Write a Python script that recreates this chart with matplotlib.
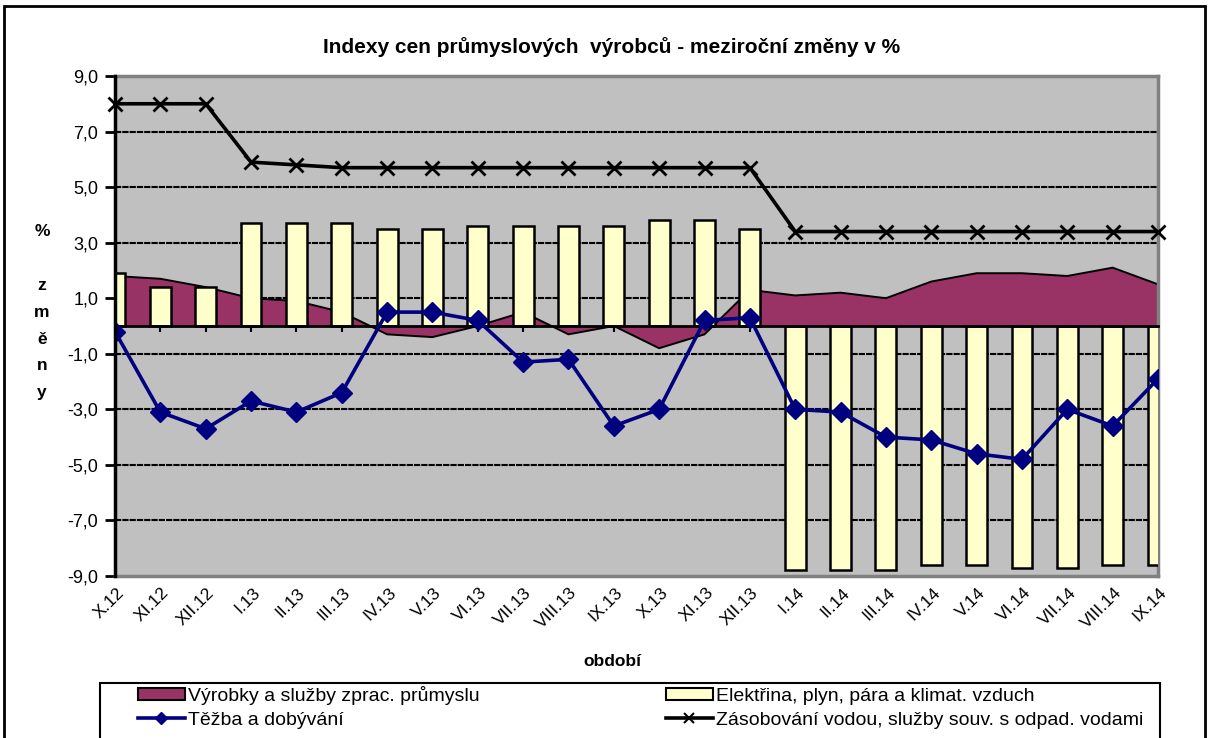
import numpy as np
import matplotlib
matplotlib.use('Agg')
import matplotlib.pyplot as plt
from matplotlib import transforms
from matplotlib.patches import Rectangle
from matplotlib.lines import Line2D

plt.rcParams['font.family'] = ['Liberation Sans', 'DejaVu Sans']

T = 'Indexy cen průmyslových  výrobců - meziroční změny v %'
mesice = ['X.12', 'XI.12', 'XII.12', 'I.13', 'II.13', 'III.13', 'IV.13', 'V.13',
          'VI.13', 'VII.13', 'VIII.13', 'IX.13', 'X.13', 'XI.13', 'XII.13',
          'I.14', 'II.14', 'III.14', 'IV.14', 'V.14', 'VI.14', 'VII.14',
          'VIII.14', 'IX.14']
# zpracovatelsky prumysl (plocha)
zprac = [1.8, 1.7, 1.4, 1.0, 0.9, 0.5, -0.3, -0.4, 0.0, 0.5, -0.3, 0.0,
         -0.8, -0.3, 1.3, 1.1, 1.2, 1.0, 1.6, 1.9, 1.9, 1.8, 2.1, 1.5]
# elektrina, plyn, para (sloupce)
elek = [1.9, 1.4, 1.4, 3.7, 3.7, 3.7, 3.5, 3.5, 3.6, 3.6, 3.6, 3.6,
        3.8, 3.8, 3.5, -8.8, -8.8, -8.8, -8.6, -8.6, -8.7, -8.7, -8.6, -8.6]
# tezba a dobyvani
tezba = [-0.2, -3.1, -3.7, -2.7, -3.1, -2.4, 0.5, 0.5, 0.2, -1.3, -1.2, -3.6,
         -3.0, 0.2, 0.3, -3.0, -3.1, -4.0, -4.1, -4.6, -4.8, -3.0, -3.6, -1.9]
# zasobovani vodou
voda = [8.0, 8.0, 8.0, 5.9, 5.8, 5.7, 5.7, 5.7, 5.7, 5.7, 5.7, 5.7,
        5.7, 5.7, 5.7, 3.4, 3.4, 3.4, 3.4, 3.4, 3.4, 3.4, 3.4, 3.4]
yt = np.arange(-9, 10, 2)

x = np.arange(len(mesice))
fig = plt.figure(figsize=(12.1, 7.38), dpi=100)
ax = fig.add_axes([115/1210, 1-576/738, (1158-115)/1210, (576-76)/738])
ax.set_facecolor('#c0c0c0')

for g in yt[1:-1]:
    ax.axhline(g, color='black', lw=1.5, ls=(0, (3, 0.5)), zorder=1)

ax.fill_between(x, 0, zprac, facecolor='#993366', lw=0, zorder=2)
ax.plot(x, zprac, color='black', lw=1.4, zorder=2.1)
ax.bar(x, elek, width=0.46, color='#ffffcc', edgecolor='black', lw=1.8, zorder=3)
ax.plot(x, tezba, color='#000080', lw=2.6, marker='D', ms=10, zorder=5)
ax.plot(x, voda, color='black', lw=2.6, marker='x', ms=10, mew=2, zorder=5, clip_on=False)

ax.set_xlim(0, len(mesice)-1); ax.set_ylim(-9, 9)
ax.set_yticks(yt, [f'{v:.1f}'.replace('.', ',') for v in yt], fontsize=13)
ax.tick_params(axis='y', direction='out', length=7, width=2, color='black', pad=5)
ax.set_xticks(x)
ax.tick_params(axis='x', direction='out', length=4, width=1.5, labelbottom=False)
ax.spines['bottom'].set_position(('data', 0))
ax.spines['bottom'].set_linewidth(2); ax.spines['bottom'].set_zorder(4)
ax.spines['left'].set_linewidth(2.5); ax.spines['left'].set_zorder(6)
for s in ('top', 'right'):
    ax.spines[s].set_color('#808080'); ax.spines[s].set_linewidth(2.5)
ax.axhline(-9, color='#808080', lw=2.5, zorder=6, clip_on=False)

off = transforms.offset_copy(ax.transData, fig=fig, x=1, y=-9, units='dots')
for i, m in enumerate(mesice):
    ax.text(i, -9, m, transform=off, rotation=45, rotation_mode='anchor',
            ha='right', va='top', fontsize=12.5)

fig.text(612/1210, 1-47/738, T, ha='center', va='center', fontsize=15, weight='bold')
fig.text(612/1210, 1-662/738, 'období', ha='center', va='center', fontsize=12.5, weight='bold')
fig.text(42/1210, 1-232/738, '%', ha='center', va='center', fontsize=12.5, weight='bold')
for k, ch in enumerate('změny'):
    fig.text(42/1210, 1-(285+27*k)/738, ch, ha='center', va='center', fontsize=12.5, weight='bold')

h = [Rectangle((0, 0), 1, 1, fc='#993366', ec='black', lw=1.5),
     Line2D([], [], color='#000080', lw=2.6, marker='D', ms=6),
     Rectangle((0, 0), 1, 1, fc='#ffffcc', ec='black', lw=1.5),
     Line2D([], [], color='black', lw=2.6, marker='x', ms=7, mew=1.5)]
l = ['Výrobky a služby zprac. průmyslu', 'Těžba a dobývání',
     'Elektřina, plyn, pára a klimat. vzduch',
     'Zásobování vodou, služby souv. s odpad. vodami']
fig.legend(h, l, ncol=2, mode='expand', loc='upper left',
           bbox_to_anchor=(138/1210, 0, 1005/1210, (738-686)/738),
           fontsize=14, frameon=False, handlelength=2.4, handleheight=0.6,
           borderaxespad=0, labelspacing=0.35, handletextpad=0.15, borderpad=0)
fig.patches.append(Rectangle((100/1210, -0.02), 1060/1210, 0.02+(738-683)/738, fill=False,
                             ec='black', lw=1.5, transform=fig.transFigure))

fig.patches.append(Rectangle((4/1210, -0.05), 1201/1210, 1.05-6/738, fill=False,
                             ec='black', lw=2, transform=fig.transFigure))
fig.savefig('out.png', dpi=100)
